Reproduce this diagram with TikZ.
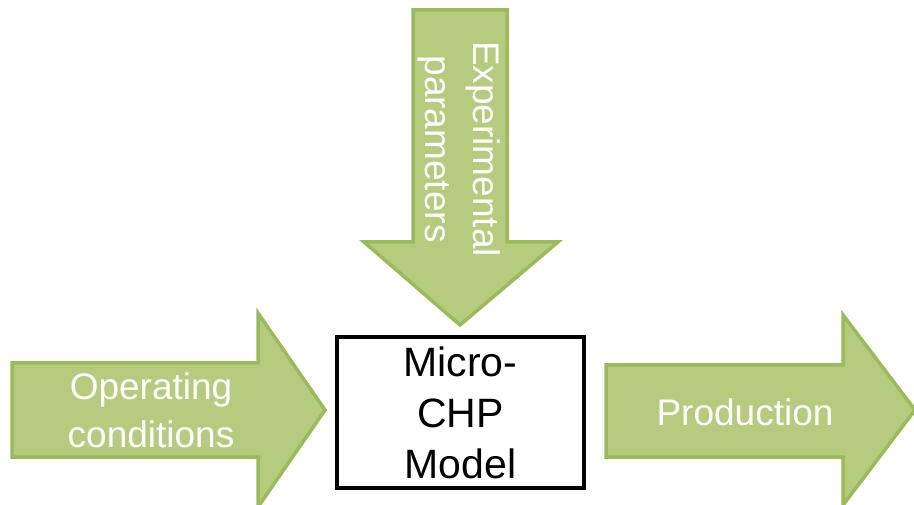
\documentclass[tikz,border=0pt]{standalone}
\usepackage{fontspec}
\setmainfont{Liberation Sans}
\definecolor{arrowfill}{RGB}{181,204,127}
\definecolor{arrowline}{RGB}{155,187,89}
\tikzset{
  greenarrow/.style={fill=arrowfill, draw=arrowline, line width=3.5pt, line join=miter},
  arrowtext/.style={text=white, font=\fontsize{37}{48}\selectfont, align=center, inner sep=0pt},
  modelbox/.style={draw=black, line width=4pt, fill=white, minimum width=247pt, minimum height=150pt, inner sep=0pt,
    font=\fontsize{41}{51}\selectfont, align=center}
}
\begin{document}
\begin{tikzpicture}[x=1pt,y=-1pt]
\useasboundingbox (0,0) rectangle (914,505);
% left arrow
\draw[greenarrow] (12,363) -- (258,363) -- (258,313) -- (325,410) -- (258,507) -- (258,457) -- (12,457) -- cycle;
% top arrow
\draw[greenarrow] (413,10) -- (507,10) -- (507,242) -- (558,242) -- (460,325) -- (364,242) -- (413,242) -- cycle;
% right arrow
\draw[greenarrow] (606,365) -- (843,365) -- (843,315) -- (915,410) -- (843,505) -- (843,457) -- (606,457) -- cycle;
% box
\node[modelbox] (model) at (460.5,412.5) {Micro-\\CHP\\Model};
\node[arrowtext] (op) at (151,410) {Operating\\conditions};
\node[arrowtext] (prod) at (745,412) {Production};
\node[arrowtext, rotate=-90] (exp) at (459,149) {Experimental\\parameters};
\end{tikzpicture}
\end{document}
